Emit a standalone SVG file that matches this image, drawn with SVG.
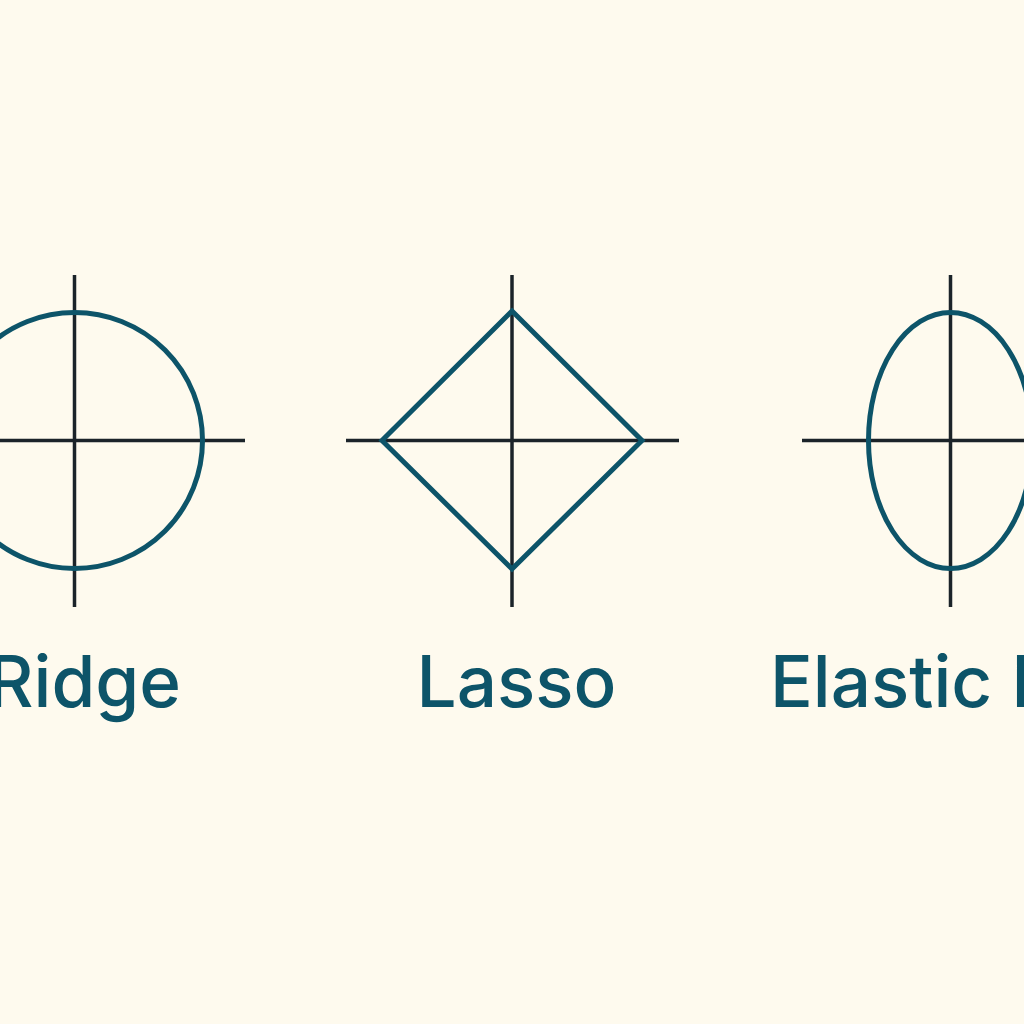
<svg xmlns="http://www.w3.org/2000/svg" width="1024" height="1024" viewBox="0 0 1024 1024">
<style>
.axis{stroke:#1b2329;stroke-width:3.5;fill:none}
.shape{stroke:#0d5469;stroke-width:5;fill:none;stroke-linejoin:miter}
.label{font-family:Inter,"Liberation Sans",sans-serif;font-size:71px;font-weight:500;fill:#0d5469}
</style>
<rect width="1024" height="1024" fill="#fefaee"/>
<g id="connectors">
<line class="axis" x1="74.5" y1="275" x2="74.5" y2="607"/>
<line class="axis" x1="0" y1="440.5" x2="245" y2="440.5"/>
<line class="axis" x1="512" y1="275" x2="512" y2="607"/>
<line class="axis" x1="346" y1="440.5" x2="679" y2="440.5"/>
<line class="axis" x1="950.5" y1="275" x2="950.5" y2="607"/>
<line class="axis" x1="802" y1="440.5" x2="1024" y2="440.5"/>
</g>
<g id="ridge">
<circle class="shape" cx="74.5" cy="440.5" r="128"/>
<text class="label" x="181" y="707" text-anchor="end">Ridge</text>
</g>
<g id="lasso">
<polygon class="shape" points="512,311 642,440.5 512,569 382,440.5"/>
<text class="label" x="516.5" y="707" text-anchor="middle">Lasso</text>
</g>
<g id="elastic-net">
<ellipse class="shape" cx="950.5" cy="440.5" rx="82" ry="128"/>
<text class="label" x="770" y="707">Elastic Net</text>
</g>
</svg>
